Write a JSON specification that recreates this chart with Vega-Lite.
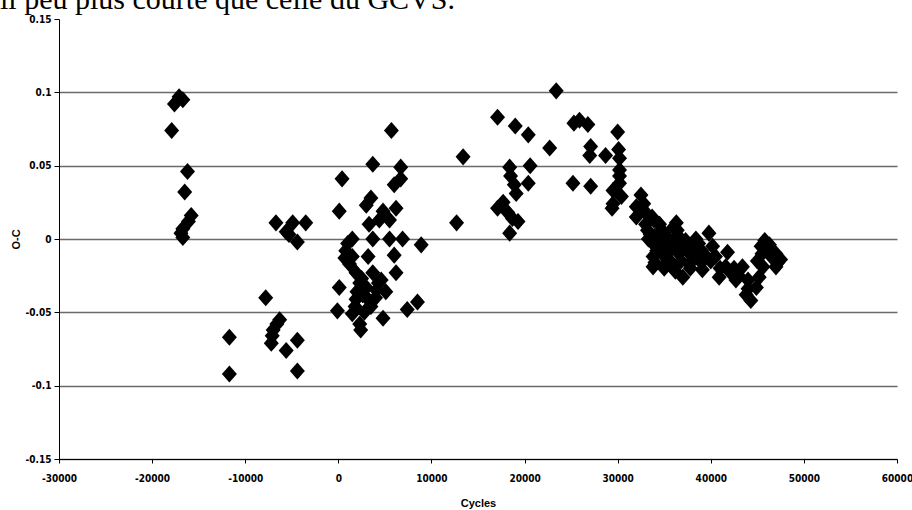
{
  "$schema": "https://vega.github.io/schema/vega-lite/v6.json",
  "width": 838,
  "height": 440,
  "autosize": {"type": "none"},
  "padding": {"left": 59, "top": 19, "right": 15, "bottom": 51},
  "background": "white",
  "title": {
    "text": "il peu plus courte que celle du GCVS.",
    "anchor": "start",
    "frame": "group",
    "orient": "top",
    "font": "Liberation Serif",
    "fontSize": 30,
    "fontWeight": "normal",
    "color": "black",
    "baseline": "alphabetic",
    "offset": 0,
    "dx": -59,
    "dy": 25
  },
  "config": {
    "view": {"stroke": null},
    "axis": {
      "labelFont": "'Liberation Sans Narrow', 'DejaVu Sans Condensed', sans-serif",
      "labelFontWeight": "bold",
      "labelColor": "black",
      "labelFlush": false,
      "labelOverlap": false,
      "titleFont": "Liberation Sans",
      "titleFontWeight": "bold",
      "titleColor": "black",
      "domainColor": "black",
      "tickColor": "black"
    }
  },
  "data": {
    "values": [
      {"cycle": -17900, "oc": 0.074}, {"cycle": -17600, "oc": 0.092}, {"cycle": -17100, "oc": 0.097},
      {"cycle": -16700, "oc": 0.095}, {"cycle": -16200, "oc": 0.046}, {"cycle": -16500, "oc": 0.032},
      {"cycle": -15800, "oc": 0.016}, {"cycle": -16100, "oc": 0.012}, {"cycle": -16700, "oc": 0.007},
      {"cycle": -16900, "oc": 0.004}, {"cycle": -16700, "oc": 0.001},

      {"cycle": -6700, "oc": 0.011}, {"cycle": -4900, "oc": 0.011}, {"cycle": -3500, "oc": 0.011},
      {"cycle": -5600, "oc": 0.005}, {"cycle": -5300, "oc": 0.003}, {"cycle": -4400, "oc": -0.002},

      {"cycle": -7800, "oc": -0.040}, {"cycle": -6300, "oc": -0.055}, {"cycle": -7000, "oc": -0.062},
      {"cycle": -11700, "oc": -0.067}, {"cycle": -4400, "oc": -0.069}, {"cycle": -7200, "oc": -0.071},
      {"cycle": -5600, "oc": -0.076}, {"cycle": -11700, "oc": -0.092}, {"cycle": -4400, "oc": -0.090},
      {"cycle": -6600, "oc": -0.058}, {"cycle": -7100, "oc": -0.066},

      {"cycle": 5700, "oc": 0.074}, {"cycle": 3700, "oc": 0.051}, {"cycle": 6700, "oc": 0.049},
      {"cycle": 400, "oc": 0.041}, {"cycle": 6700, "oc": 0.041}, {"cycle": 6000, "oc": 0.037},
      {"cycle": 3500, "oc": 0.028}, {"cycle": 3000, "oc": 0.023}, {"cycle": 100, "oc": 0.019},
      {"cycle": 6200, "oc": 0.021}, {"cycle": 4800, "oc": 0.019}, {"cycle": 5500, "oc": 0.013},
      {"cycle": 3300, "oc": 0.010}, {"cycle": 4400, "oc": 0.013}, {"cycle": 3700, "oc": 0.000},
      {"cycle": 5500, "oc": 0.000}, {"cycle": 6900, "oc": 0.000}, {"cycle": 8900, "oc": -0.004},
      {"cycle": 1500, "oc": 0.000}, {"cycle": 800, "oc": -0.008}, {"cycle": 3200, "oc": -0.012},
      {"cycle": 6000, "oc": -0.011}, {"cycle": 1500, "oc": -0.012}, {"cycle": 1200, "oc": -0.017},
      {"cycle": 6200, "oc": -0.023}, {"cycle": 1900, "oc": -0.023}, {"cycle": 3700, "oc": -0.023},
      {"cycle": 4600, "oc": -0.028}, {"cycle": 100, "oc": -0.033}, {"cycle": 2300, "oc": -0.030},
      {"cycle": 4100, "oc": -0.035}, {"cycle": 5100, "oc": -0.036}, {"cycle": 2600, "oc": -0.038},
      {"cycle": 1900, "oc": -0.041}, {"cycle": 3300, "oc": -0.042}, {"cycle": 8500, "oc": -0.043},
      {"cycle": 7400, "oc": -0.048}, {"cycle": -100, "oc": -0.049}, {"cycle": 1500, "oc": -0.051},
      {"cycle": 4800, "oc": -0.054}, {"cycle": 2300, "oc": -0.058}, {"cycle": 2400, "oc": -0.062},
      {"cycle": 1000, "oc": -0.003}, {"cycle": 700, "oc": -0.013}, {"cycle": 2500, "oc": -0.027},
      {"cycle": 3000, "oc": -0.033}, {"cycle": 2000, "oc": -0.036}, {"cycle": 3500, "oc": -0.046},
      {"cycle": 4000, "oc": -0.040}, {"cycle": 1800, "oc": -0.046}, {"cycle": 2800, "oc": -0.050},
      {"cycle": 4300, "oc": -0.030},
      {"cycle": 12700, "oc": 0.011}, {"cycle": 13400, "oc": 0.056},

      {"cycle": 23400, "oc": 0.101}, {"cycle": 17100, "oc": 0.083}, {"cycle": 19000, "oc": 0.077},
      {"cycle": 20400, "oc": 0.071}, {"cycle": 25300, "oc": 0.079}, {"cycle": 25900, "oc": 0.081},
      {"cycle": 26800, "oc": 0.078}, {"cycle": 30000, "oc": 0.073}, {"cycle": 22700, "oc": 0.062},
      {"cycle": 27100, "oc": 0.063}, {"cycle": 27000, "oc": 0.057}, {"cycle": 28700, "oc": 0.057},
      {"cycle": 30100, "oc": 0.061}, {"cycle": 30200, "oc": 0.055}, {"cycle": 18400, "oc": 0.049},
      {"cycle": 20600, "oc": 0.050}, {"cycle": 18500, "oc": 0.043}, {"cycle": 30200, "oc": 0.047},
      {"cycle": 30200, "oc": 0.043}, {"cycle": 18900, "oc": 0.037}, {"cycle": 20400, "oc": 0.038},
      {"cycle": 25200, "oc": 0.038}, {"cycle": 27100, "oc": 0.036}, {"cycle": 30200, "oc": 0.038},
      {"cycle": 19100, "oc": 0.031}, {"cycle": 29500, "oc": 0.033}, {"cycle": 30400, "oc": 0.029},
      {"cycle": 29500, "oc": 0.024}, {"cycle": 29400, "oc": 0.021}, {"cycle": 17100, "oc": 0.021},
      {"cycle": 17700, "oc": 0.025}, {"cycle": 18200, "oc": 0.018}, {"cycle": 18700, "oc": 0.014},
      {"cycle": 19300, "oc": 0.012}, {"cycle": 18400, "oc": 0.004},

      {"cycle": 32500, "oc": 0.030}, {"cycle": 33700, "oc": 0.015}, {"cycle": 33900, "oc": 0.013},
      {"cycle": 33200, "oc": 0.006}, {"cycle": 34700, "oc": 0.006}, {"cycle": 36300, "oc": 0.011},
      {"cycle": 36400, "oc": 0.006}, {"cycle": 33800, "oc": -0.003}, {"cycle": 35200, "oc": -0.005},
      {"cycle": 37300, "oc": -0.001}, {"cycle": 38400, "oc": 0.000}, {"cycle": 39800, "oc": 0.004},
      {"cycle": 40200, "oc": -0.005}, {"cycle": 33800, "oc": -0.012}, {"cycle": 35200, "oc": -0.017},
      {"cycle": 33800, "oc": -0.019}, {"cycle": 37000, "oc": -0.026}, {"cycle": 35900, "oc": -0.019},
      {"cycle": 37700, "oc": -0.017}, {"cycle": 39100, "oc": -0.021}, {"cycle": 41800, "oc": -0.009},
      {"cycle": 41600, "oc": -0.019}, {"cycle": 43400, "oc": -0.019}, {"cycle": 40900, "oc": -0.026},
      {"cycle": 42700, "oc": -0.028}, {"cycle": 44000, "oc": -0.034}, {"cycle": 44300, "oc": -0.042},
      {"cycle": 43800, "oc": -0.038}, {"cycle": 44900, "oc": -0.033}, {"cycle": 45200, "oc": -0.026},
      {"cycle": 45600, "oc": -0.019}, {"cycle": 45800, "oc": -0.001}, {"cycle": 46300, "oc": -0.004},
      {"cycle": 47000, "oc": -0.010}, {"cycle": 47500, "oc": -0.014}, {"cycle": 47000, "oc": -0.019},
      {"cycle": 46100, "oc": -0.008}, {"cycle": 45400, "oc": -0.005},
      {"cycle": 32000, "oc": 0.022}, {"cycle": 32000, "oc": 0.015}, {"cycle": 32800, "oc": 0.024},
      {"cycle": 33000, "oc": 0.018}, {"cycle": 33000, "oc": 0.010}, {"cycle": 33500, "oc": 0.003},
      {"cycle": 33300, "oc": 0.000}, {"cycle": 34000, "oc": 0.002}, {"cycle": 34200, "oc": -0.008},
      {"cycle": 34500, "oc": 0.000}, {"cycle": 34800, "oc": -0.010}, {"cycle": 35000, "oc": 0.004},
      {"cycle": 35500, "oc": 0.000}, {"cycle": 35600, "oc": -0.008}, {"cycle": 36000, "oc": -0.004},
      {"cycle": 36500, "oc": 0.002}, {"cycle": 36600, "oc": -0.010}, {"cycle": 36800, "oc": -0.015},
      {"cycle": 37000, "oc": -0.005}, {"cycle": 37500, "oc": -0.008}, {"cycle": 38000, "oc": -0.005},
      {"cycle": 38000, "oc": -0.012}, {"cycle": 38500, "oc": -0.010}, {"cycle": 39000, "oc": -0.008},
      {"cycle": 39500, "oc": -0.012}, {"cycle": 39000, "oc": -0.016}, {"cycle": 40000, "oc": -0.015},
      {"cycle": 40500, "oc": -0.012}, {"cycle": 41000, "oc": -0.020}, {"cycle": 42000, "oc": -0.022},
      {"cycle": 42500, "oc": -0.020}, {"cycle": 43000, "oc": -0.025}, {"cycle": 44000, "oc": -0.028},
      {"cycle": 45000, "oc": -0.015}, {"cycle": 45500, "oc": -0.010}, {"cycle": 46500, "oc": -0.012},
      {"cycle": 47200, "oc": -0.016}, {"cycle": 34000, "oc": -0.016}, {"cycle": 35500, "oc": -0.014},
      {"cycle": 37800, "oc": -0.020}, {"cycle": 36000, "oc": 0.008}, {"cycle": 34500, "oc": 0.010},
      {"cycle": 35000, "oc": -0.020}, {"cycle": 36200, "oc": -0.022}, {"cycle": 38700, "oc": -0.003}
    ]
  },
  "mark": {
    "type": "point",
    "shape": "M0,-1L0.88,0L0,1L-0.88,0Z",
    "filled": true,
    "color": "black",
    "opacity": 1,
    "size": 290
  },
  "encoding": {
    "x": {
      "field": "cycle",
      "type": "quantitative",
      "scale": {"domain": [-30000, 60000], "nice": false, "zero": false},
      "axis": {
        "title": "Cycles",
        "values": [-30000, -20000, -10000, 0, 10000, 20000, 30000, 40000, 50000, 60000],
        "labelExpr": "'' + datum.value",
        "labelFontSize": 10,
        "tickSize": 4,
        "labelPadding": 10,
        "titleFontSize": 11,
        "titlePadding": 14,
        "grid": false
      }
    },
    "y": {
      "field": "oc",
      "type": "quantitative",
      "scale": {"domain": [-0.15, 0.15], "nice": false, "zero": false},
      "axis": {
        "title": "O-C",
        "values": [-0.15, -0.1, -0.05, 0, 0.05, 0.1, 0.15],
        "labelExpr": "'' + datum.value",
        "labelFontSize": 10,
        "tickSize": 5,
        "labelPadding": 3,
        "titleFontSize": 11,
        "titlePadding": 4,
        "grid": true,
        "gridColor": "#6a6a6a",
        "gridWidth": 1.3,
        "gridOpacity": {"condition": {"test": "datum.value === 0.15", "value": 0}, "value": 1}
      }
    }
  }
}
